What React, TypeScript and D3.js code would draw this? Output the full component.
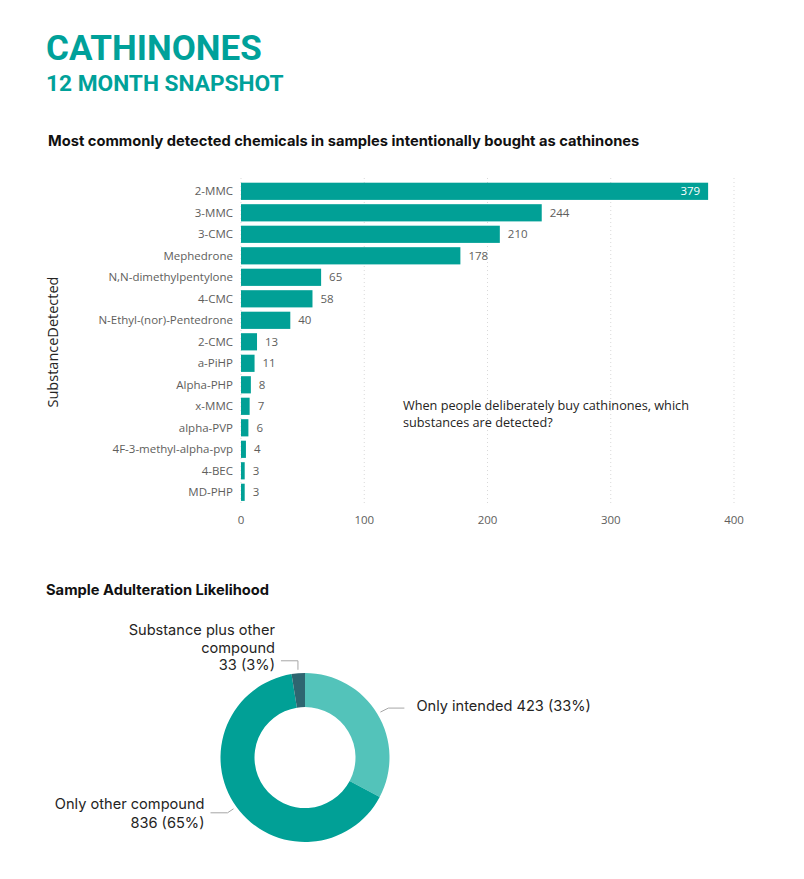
import * as d3 from 'd3';

// bar chart data
const substances = [
  '2-MMC', '3-MMC', '3-CMC', 'Mephedrone', 'N,N-dimethylpentylone', '4-CMC',
  'N-Ethyl-(nor)-Pentedrone', '2-CMC', 'a-PiHP', 'Alpha-PHP', 'x-MMC',
  'alpha-PVP', '4F-3-methyl-alpha-pvp', '4-BEC', 'MD-PHP',
];
const counts = [379, 244, 210, 178, 65, 58, 40, 13, 11, 8, 7, 6, 4, 3, 3];
const xTicks = [0, 100, 200, 300, 400];

// donut data
const outcomes = ['Only intended', 'Only other compound', 'Substance plus other compound'];
const outcomeCounts = [423, 836, 33];
const outcomePct = ['33%', '65%', '3%'];
const outcomeColors = ['#53C3BA', '#01A096', '#2E6670'];

const TEAL = '#00A19A';
const LABEL = '#605E5C';
const DARK = '#252423';

const BarChart = () => {
  const x = d3.scaleLinear().domain([0, 400]).range([241, 734]);
  const y = d3
    .scaleBand<string>()
    .domain(substances)
    .range([180.55, 503.05])
    .paddingInner(0.2)
    .paddingOuter(0.1);
  const font = "'Segoe UI', 'Open Sans', sans-serif";

  return (
    <g>
      {xTicks.map((t) => (
        <line
          key={t}
          x1={x(t)}
          x2={x(t)}
          y1={178}
          y2={505}
          stroke="#D9D9D9"
          strokeDasharray="1,3"
        />
      ))}
      {substances.map((s, i) => {
        const v = counts[i];
        const yy = y(s)!;
        const bw = y.bandwidth();
        const inside = v > 300;
        return (
          <g key={s}>
            <rect x={x(0)} y={yy} width={x(v) - x(0)} height={bw} fill="#01A096" />
            <text
              x={x(0) - 8}
              y={yy + bw / 2}
              dy="0.35em"
              textAnchor="end"
              fontSize={11.5}
              fill={LABEL}
              fontFamily={font}
            >
              {s}
            </text>
            <text
              x={inside ? x(v) - 8 : x(v) + 8}
              y={yy + bw / 2}
              dy="0.35em"
              textAnchor={inside ? 'end' : 'start'}
              fontSize={11.5}
              fill={inside ? '#fff' : LABEL}
              fontFamily={font}
            >
              {v}
            </text>
          </g>
        );
      })}
      {xTicks.map((t) => (
        <text
          key={t}
          x={x(t)}
          y={520}
          dy="0.35em"
          textAnchor="middle"
          fontSize={11.5}
          fill={LABEL}
          fontFamily={font}
        >
          {t}
        </text>
      ))}
      <text
        transform="translate(58,342) rotate(-90)"
        textAnchor="middle"
        fontSize={14.5}
        fill={DARK}
        fontFamily={font}
      >
        SubstanceDetected
      </text>
      <text x={403} y={410} fontSize={12.7} fill={DARK} fontFamily={font}>
        <tspan x={403}>When people deliberately buy cathinones, which</tspan>
        <tspan x={403} dy={17}>substances are detected?</tspan>
      </text>
    </g>
  );
};

// label layout per slice: elbow offset and text lines
const labelLayout = [
  { ex: 8, ey: -4, hx: 16, tx: 12, lines: [-2], anchor: 'start' },
  { ex: -6, ey: 4, hx: -17, tx: -6, lines: [-9, 10], anchor: 'end' },
  { ex: 0, ey: -9, hx: -17, tx: -6, lines: [-31, -13, 4], anchor: 'end' },
];

const Donut = () => {
  const cx = 305;
  const cy = 757.5;
  const pie = d3.pie<number>().sort(null).value((d) => d);
  const arcs = pie(outcomeCounts);
  const arc = d3.arc<d3.PieArcDatum<number>>().innerRadius(50.5).outerRadius(84.5);
  const texts = [
    [`${outcomes[0]} ${outcomeCounts[0]} (${outcomePct[0]})`],
    [outcomes[1], `${outcomeCounts[1]} (${outcomePct[1]})`],
    ['Substance plus other', 'compound', `${outcomeCounts[2]} (${outcomePct[2]})`],
  ];

  return (
    <g transform={`translate(${cx},${cy})`}>
      {arcs.map((a, i) => (
        <path key={i} d={arc(a)!} fill={outcomeColors[i]} />
      ))}
      {arcs.map((a, i) => {
        const mid = (a.startAngle + a.endAngle) / 2;
        const sx = Math.sin(mid) * 88;
        const sy = -Math.cos(mid) * 88;
        const l = labelLayout[i];
        const ex = sx + l.ex;
        const ey = sy + l.ey;
        const hx = ex + l.hx;
        return (
          <g key={i}>
            <polyline
              points={`${sx},${sy} ${ex},${ey} ${hx},${ey}`}
              fill="none"
              stroke="#A6A6A6"
              strokeWidth={1}
            />
            {texts[i].map((t, j) => (
              <text
                key={j}
                x={hx + l.tx}
                y={ey + l.lines[j]}
                dy="0.35em"
                textAnchor={l.anchor}
                fontSize={14.6}
                fill={DARK}
                fontFamily="Inter, sans-serif"
              >
                {t}
              </text>
            ))}
          </g>
        );
      })}
    </g>
  );
};

export default function App() {
  return (
    <svg
      width={804}
      height={879}
      style={{ position: 'absolute', left: 0, top: 0, background: '#fff' }}
    >
      <text x={46} y={60} fontSize={35} fontWeight={700} fill={TEAL} fontFamily="Roboto, sans-serif">
        CATHINONES
      </text>
      <text x={46} y={91} fontSize={22.7} fontWeight={700} fill={TEAL} fontFamily="Roboto, sans-serif">
        12 MONTH SNAPSHOT
      </text>
      <text x={48} y={146} fontSize={14.7} fontWeight={700} fill="#111" fontFamily="Inter, sans-serif">
        Most commonly detected chemicals in samples intentionally bought as cathinones
      </text>
      <BarChart />
      <text x={46} y={595} fontSize={14.7} fontWeight={700} fill="#111" fontFamily="Inter, sans-serif">
        Sample Adulteration Likelihood
      </text>
      <Donut />
    </svg>
  );
}
